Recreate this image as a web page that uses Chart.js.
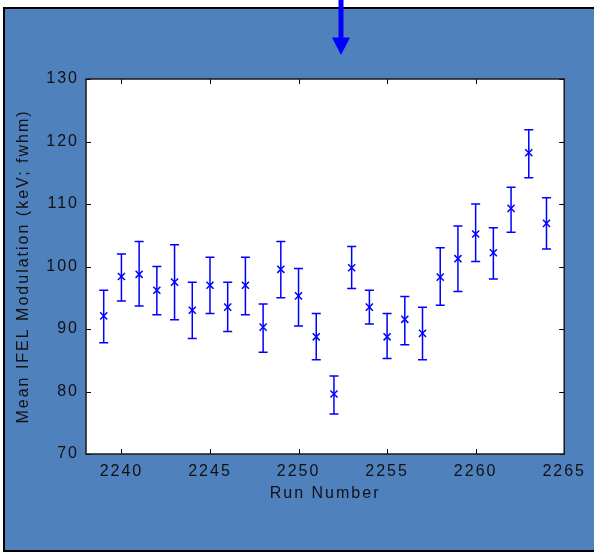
<!DOCTYPE html>
<html>
<head>
<meta charset="utf-8">
<title>Mean IFEL Modulation vs Run Number</title>
<script src="https://cdn.jsdelivr.net/npm/chart.js@4.4.1/dist/chart.umd.min.js"></script>
<style>
    html, body { margin: 0; padding: 0; background: #ffffff; }
    #chart { display: block; }
</style>
</head>
<body>
<canvas id="chart" width="594" height="552"></canvas>
<script>
(function () {
    'use strict';

    var runs = [2239, 2240, 2241, 2242, 2243, 2244, 2245, 2246, 2247, 2248, 2249, 2250, 2251,
        2252, 2253, 2254, 2255, 2256, 2257, 2258, 2259, 2260, 2261, 2262, 2263, 2264];
    var means = [92.1, 98.4, 98.75, 96.2, 97.5, 93.0, 97.0, 93.5, 97.0, 90.3, 99.55, 95.3, 88.75,
        79.6, 99.8, 93.5, 88.75, 91.55, 89.3, 98.3, 101.25, 105.2, 102.2, 109.3, 118.2, 106.9];
    var upper = [96.2, 102.0, 104.0, 100.0, 103.5, 97.5, 101.5, 97.5, 101.5, 94.0, 104.0, 99.7, 92.5,
        82.5, 103.2, 96.2, 92.5, 95.2, 93.5, 103.0, 106.5, 110.0, 106.2, 112.7, 121.9, 111.0];
    var lower = [87.8, 94.5, 93.7, 92.3, 91.5, 88.5, 92.5, 89.6, 92.3, 86.3, 95.0, 90.5, 85.1,
        76.4, 96.5, 90.8, 85.3, 87.5, 85.1, 93.8, 96.0, 100.8, 98.0, 105.5, 114.2, 102.8];

    var xTicks = [2240, 2245, 2250, 2255, 2260, 2265];
    var yTicks = [70, 80, 90, 100, 110, 120, 130];

    var BLUE = '#0000ff';
    var PANEL = '#4f81bd';
    var INK = '#111111';
    var FONT = "'Liberation Sans Narrow', 'Liberation Sans', Arial, sans-serif";
    var SPACING = '2px';

    var points = [];
    for (var i = 0; i < runs.length; i++) {
        points.push({ x: runs[i], y: means[i] });
    }

    function setTicks(values) {
        return function (scale) {
            scale.ticks = values.map(function (v) { return { value: v }; });
        };
    }

    function plainLabel(value) {
        return String(value);
    }

    // letter-spaced labels like the original export
    var spacingPlugin = {
        id: 'spacing',
        beforeLayout: function (chart) { chart.ctx.letterSpacing = SPACING; },
        beforeDraw: function (chart) { chart.ctx.letterSpacing = SPACING; }
    };

    var backdropPlugin = {
        id: 'backdrop',
        beforeDraw: function (chart) {
            var ctx = chart.ctx;
            var a = chart.chartArea;
            ctx.save();
            ctx.fillStyle = '#ffffff';
            ctx.fillRect(0, 0, chart.width, chart.height);
            ctx.fillStyle = PANEL;
            ctx.fillRect(4, 8, chart.width - 4, 543);
            ctx.strokeStyle = '#000000';
            ctx.lineWidth = 2;
            ctx.beginPath();
            ctx.moveTo(chart.width, 8);
            ctx.lineTo(4, 8);
            ctx.lineTo(4, 551);
            ctx.lineTo(chart.width, 551);
            ctx.stroke();
            ctx.fillStyle = '#ffffff';
            ctx.fillRect(a.left, a.top, a.right - a.left, a.bottom - a.top);

            // pointer arrow above the plot
            ctx.fillStyle = BLUE;
            ctx.fillRect(338.5, 0, 5, 40);
            ctx.beginPath();
            ctx.moveTo(332, 37.5);
            ctx.lineTo(350, 37.5);
            ctx.lineTo(341, 55);
            ctx.closePath();
            ctx.fill();
            ctx.restore();
        }
    };

    var frameErrorPlugin = {
        id: 'frameError',
        afterDatasetsDraw: function (chart) {
            var ctx = chart.ctx;
            var xs = chart.scales.x;
            var ys = chart.scales.y;
            var cap = 4.5;
            ctx.save();
            ctx.strokeStyle = BLUE;
            ctx.lineWidth = 1.5;
            for (var i = 0; i < runs.length; i++) {
                var px = xs.getPixelForValue(runs[i]);
                var top = ys.getPixelForValue(upper[i]);
                var bot = ys.getPixelForValue(lower[i]);
                ctx.beginPath();
                ctx.moveTo(px, top);
                ctx.lineTo(px, bot);
                ctx.moveTo(px - cap, top);
                ctx.lineTo(px + cap, top);
                ctx.moveTo(px - cap, bot);
                ctx.lineTo(px + cap, bot);
                ctx.stroke();
            }
            ctx.restore();
        },
        afterDraw: function (chart) {
            var ctx = chart.ctx;
            var a = chart.chartArea;
            var xs = chart.scales.x;
            var ys = chart.scales.y;
            var len = 5;
            ctx.save();
            ctx.strokeStyle = '#000000';
            ctx.lineWidth = 1;
            ctx.beginPath();
            xs.ticks.forEach(function (t) {
                var px = Math.round(xs.getPixelForValue(t.value)) + 0.5;
                ctx.moveTo(px, a.bottom);
                ctx.lineTo(px, a.bottom - len);
                ctx.moveTo(px, a.top);
                ctx.lineTo(px, a.top + len);
            });
            ys.ticks.forEach(function (t) {
                var py = Math.round(ys.getPixelForValue(t.value)) + 0.5;
                ctx.moveTo(a.left, py);
                ctx.lineTo(a.left + len, py);
                ctx.moveTo(a.right, py);
                ctx.lineTo(a.right - len, py);
            });
            ctx.stroke();
            ctx.lineWidth = 1.5;
            ctx.strokeStyle = '#1a1a1a';
            ctx.strokeRect(a.left, a.top, a.right - a.left, a.bottom - a.top);
            ctx.restore();
        }
    };

    new Chart(document.getElementById('chart'), {
        type: 'scatter',
        data: {
            datasets: [{
                label: 'Mean IFEL Modulation',
                data: points,
                showLine: false,
                pointStyle: 'crossRot',
                pointRadius: 5,
                pointHoverRadius: 5,
                borderColor: BLUE,
                backgroundColor: BLUE,
                pointBorderWidth: 1.5
            }]
        },
        options: {
            responsive: false,
            animation: false,
            events: [],
            layout: {
                padding: { left: 0, top: 79, right: 26, bottom: 0 }
            },
            plugins: {
                legend: { display: false },
                tooltip: { enabled: false }
            },
            scales: {
                x: {
                    type: 'linear',
                    min: 2238,
                    max: 2265,
                    afterBuildTicks: setTicks(xTicks),
                    afterFit: function (scale) { scale.height = 98; },
                    grid: { display: false, drawTicks: false },
                    border: { display: false },
                    ticks: {
                        color: INK,
                        padding: 8,
                        autoSkip: false,
                        maxRotation: 0,
                        callback: plainLabel,
                        font: { family: FONT, size: 16 }
                    },
                    title: {
                        display: true,
                        text: 'Run Number',
                        color: INK,
                        font: { family: FONT, size: 16 },
                        padding: { top: 0, bottom: 49 }
                    }
                },
                y: {
                    type: 'linear',
                    min: 70,
                    max: 130,
                    afterBuildTicks: setTicks(yTicks),
                    afterFit: function (scale) { scale.width = 86; },
                    grid: { display: false, drawTicks: false },
                    border: { display: false },
                    ticks: {
                        color: INK,
                        padding: 7,
                        callback: plainLabel,
                        font: { family: FONT, size: 16 }
                    },
                    title: {
                        display: true,
                        text: 'Mean IFEL Modulation (keV; fwhm)',
                        color: INK,
                        font: { family: FONT, size: 16 },
                        padding: { top: 14, bottom: 0 }
                    }
                }
            }
        },
        plugins: [spacingPlugin, backdropPlugin, frameErrorPlugin]
    });
})();
</script>
</body>
</html>
